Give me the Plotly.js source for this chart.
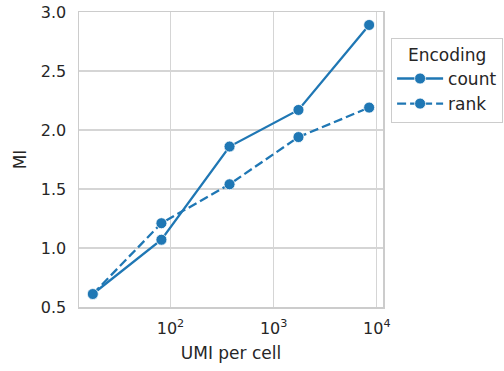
<!DOCTYPE html>
<html><head><meta charset="utf-8">
<script src="https://cdn.plot.ly/plotly-3.0.1.min.js"></script>
<style>html,body{margin:0;padding:0;background:#fff}#chart{width:504px;height:371px}</style>
</head><body><div id="chart"></div>
<script>
const umi = [17.7, 81.8, 374, 1741, 8430];
const miCount = [0.61, 1.07, 1.86, 2.17, 2.89];
const miRank = [0.61, 1.21, 1.54, 1.94, 2.19];
const seriesNames = ['count', 'rank'];
const xTickVals = [100, 1000, 10000];
const xTickText = ['10<sup>2</sup>', '10<sup>3</sup>', '10<sup>4</sup>'];
const yTickVals = [0.5, 1.0, 1.5, 2.0, 2.5, 3.0];

const color = '#1f77b4';
const textColor = '#262626';
const mk = {size: 11, color: color, line: {color: '#ffffff', width: 0.8}};
const traces = [
  {x: umi, y: miCount, name: seriesNames[0], mode: 'lines+markers', line: {color: color, width: 2.3}, marker: mk},
  {x: umi, y: miRank, name: seriesNames[1], mode: 'lines+markers', line: {color: color, width: 2.3, dash: '9px,4px'}, marker: mk}
];
const font = {family: 'DejaVu Sans', size: 16, color: textColor};
const titleFont = {family: 'DejaVu Sans', size: 17, color: textColor};
const legendFont = {family: 'DejaVu Sans', size: 17, color: textColor};
const layout = {
  width: 504, height: 371,
  margin: {l: 79, r: 121, t: 12, b: 64},
  paper_bgcolor: '#fff', plot_bgcolor: '#fff',
  font: font,
  showlegend: true,
  xaxis: {type: 'log', range: [1.114, 4.06], tickvals: xTickVals, ticktext: xTickText,
    showgrid: true, gridcolor: '#d5d5d5', gridwidth: 1.2, showline: true, mirror: true, linecolor: '#cccccc', linewidth: 1.5,
    zeroline: false, ticks: '', ticklen: 0, ticklabelstandoff: 6,
    title: {text: 'UMI per cell', font: titleFont, standoff: 10}},
  yaxis: {range: [0.5, 3.0], tickvals: yTickVals, tickformat: '.1f',
    showgrid: true, gridcolor: '#d5d5d5', gridwidth: 1.2, showline: true, mirror: true, linecolor: '#cccccc', linewidth: 1.5,
    zeroline: false, ticks: '', ticklen: 0, ticklabelstandoff: 8,
    title: {text: 'MI', font: titleFont, standoff: 10}},
  legend: {xref: 'container', yref: 'container', x: 0.776, y: 0.898, xanchor: 'left', yanchor: 'top',
    bordercolor: '#cccccc', borderwidth: 1,
    bgcolor: '#fff', font: legendFont, title: {text: 'Encoding', side: 'top center', font: legendFont}, tracegroupgap: 0, itemwidth: 46}
};
Plotly.newPlot('chart', traces, layout, {displayModeBar: false, staticPlot: true});
</script></body></html>
